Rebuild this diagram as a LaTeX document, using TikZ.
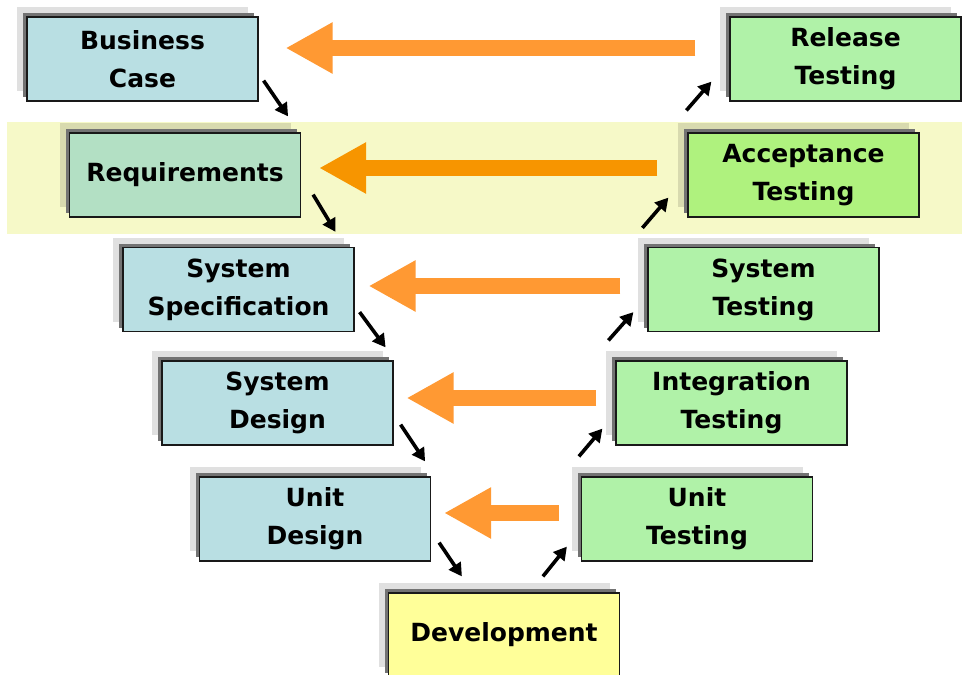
\documentclass[tikz,border=0pt]{standalone}
\usepackage{fontspec}
\setmainfont{DejaVu Sans}
\usetikzlibrary{arrows.meta,shadows}

\definecolor{designfill}{HTML}{B9DFE3}
\definecolor{reqfill}{HTML}{B3E0C4}
\definecolor{testfill}{HTML}{B0F2A8}
\definecolor{accfill}{HTML}{AFF27E}
\definecolor{devfill}{HTML}{FFFF99}
\definecolor{bandfill}{HTML}{F6F9C8}
\definecolor{backorange}{HTML}{FF9933}
\definecolor{deeporange}{HTML}{F79500}

\tikzset{
  phase/.style={draw=black!90, line width=1.2pt, rectangle,
    minimum width=231pt, minimum height=84pt, inner sep=0pt, align=center,
    font=\bfseries\fontsize{25pt}{38pt}\selectfont,
    general shadow={shadow xshift=-10pt, shadow yshift=10pt, fill=black, fill opacity=0.12, draw=none},
    general shadow={shadow xshift=-4pt, shadow yshift=4pt, fill=black!55, draw=none}},
  design/.style={phase, fill=designfill},
  test/.style={phase, fill=testfill},
  feedback/.style={line width=16pt, line cap=butt, draw=backorange,
    -{Triangle[length=47pt,width=48pt]}},
  flow/.style={line width=3.6pt, draw=black,
    -{Triangle[length=13pt,width=14pt]}}
}

\begin{document}
\begin{tikzpicture}[x=1pt,y=-1pt]
\useasboundingbox (0,0) rectangle (962,675);
\fill[white] (0,0) rectangle (962,675);

% highlighted requirements / acceptance band
\fill[bandfill] (7,122) rectangle (962,234);

% left branch: specification phases
\node[design] (bc) at (142.5,59) {Business\\Case};
\node[phase, fill=reqfill] (req) at (185,175) {Requirements};
\node[design] (ss) at (238.5,289.5) {System\\Specification};
\node[design] (sd) at (277.5,403) {System\\Design};
\node[design] (ud) at (315,519) {Unit\\Design};

% bottom: implementation
\node[phase, fill=devfill] (dev) at (504,635) {Development};

% right branch: testing phases
\node[test] (ut) at (697,519) {Unit\\Testing};
\node[test] (it) at (731.5,403) {Integration\\Testing};
\node[test] (st) at (763.5,289.5) {System\\Testing};
\node[phase, fill=accfill] (at) at (803.5,175) {Acceptance\\Testing};
\node[test] (rt) at (845.5,59) {Release\\Testing};

% feedback from each test level to its design level
\draw[feedback] ([xshift=-34pt,yshift=11pt]rt.west) -- ([xshift=27pt,yshift=11pt]bc.east);
\draw[feedback, draw=deeporange] ([xshift=-30pt,yshift=7pt]at.west) -- ([xshift=18pt,yshift=7pt]req.east);
\draw[feedback] ([xshift=-27pt,yshift=3.5pt]st.west) -- ([xshift=14pt,yshift=3.5pt]ss.east);
\draw[feedback] ([xshift=-19pt,yshift=5pt]it.west) -- ([xshift=13pt,yshift=5pt]sd.east);
\draw[feedback] ([xshift=-22pt,yshift=6pt]ut.west) -- ([xshift=13pt,yshift=6pt]ud.east);

% downward flow on the left
\draw[flow] ([xshift=5pt,yshift=21pt]bc.south east) -- ([xshift=-13pt,yshift=16pt]req.north east);
\draw[flow] ([xshift=12pt,yshift=23pt]req.south east) -- ([xshift=-19pt,yshift=15pt]ss.north east);
\draw[flow] ([xshift=5pt,yshift=20pt]ss.south east) -- ([xshift=-8pt,yshift=13pt]sd.north east);
\draw[flow] ([xshift=7pt,yshift=21pt]sd.south east) -- ([xshift=-6pt,yshift=15pt]ud.north east);
\draw[flow] ([xshift=8pt,yshift=19pt]ud.south east) -- ([xshift=74pt,yshift=16pt]dev.north west);

% upward flow on the right
\draw[flow] ([xshift=155pt,yshift=16pt]dev.north west) -- ([xshift=-14pt,yshift=15pt]ut.south west);
\draw[flow] ([xshift=-2pt,yshift=20pt]ut.north west) -- ([xshift=-13pt,yshift=17pt]it.south west);
\draw[flow] ([xshift=-7pt,yshift=20pt]it.north west) -- ([xshift=-14pt,yshift=20pt]st.south west);
\draw[flow] ([xshift=-5pt,yshift=19pt]st.north west) -- ([xshift=-19pt,yshift=20pt]at.south west);
\draw[flow] ([xshift=-1pt,yshift=22pt]at.north west) -- ([xshift=-18pt,yshift=20pt]rt.south west);
\end{tikzpicture}
\end{document}
